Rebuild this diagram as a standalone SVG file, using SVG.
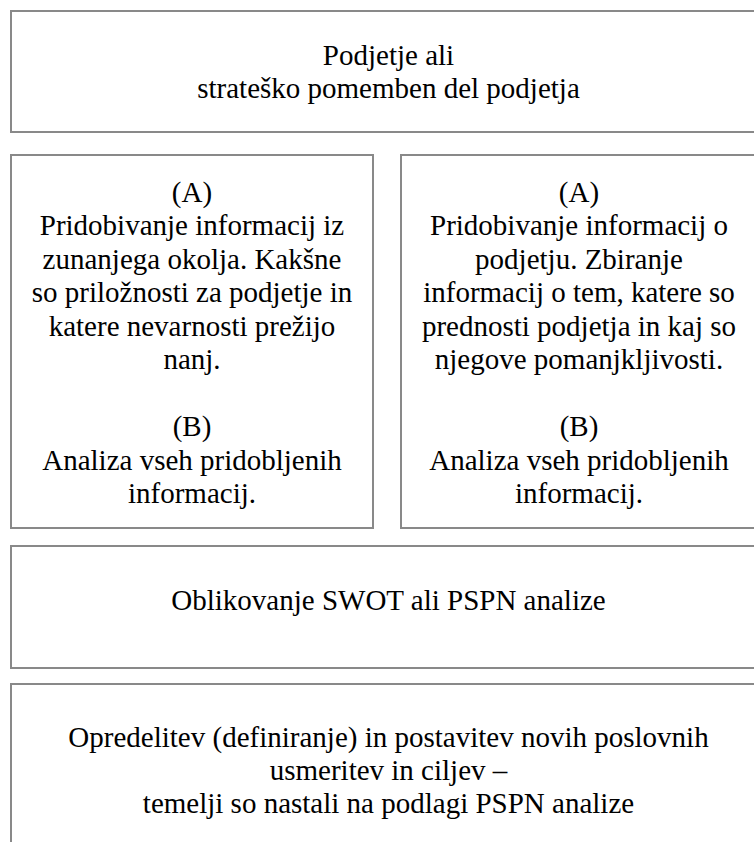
<svg xmlns="http://www.w3.org/2000/svg" width="754" height="842" viewBox="0 0 754 842">
<style>
.box{fill:#ffffff;stroke:#898989;stroke-width:2}
.t{font-family:"Liberation Serif","Times New Roman",serif;font-size:29px;fill:#000000;text-anchor:middle}
</style>
<rect width="754" height="842" fill="#ffffff"/>
<g id="connectors"></g>
<g id="node-top">
<rect class="box" x="11" y="11" width="760" height="121"/>
<text class="t" x="388.5" y="65">Podjetje ali</text>
<text class="t" x="388.5" y="98">strateško pomemben del podjetja</text>
</g>
<g id="node-external">
<rect class="box" x="11" y="155" width="362" height="373"/>
<text class="t" x="192" y="201.5">(A)</text>
<text class="t" x="192" y="235">Pridobivanje informacij iz</text>
<text class="t" x="192" y="268.5">zunanjega okolja. Kakšne</text>
<text class="t" x="192" y="302">so priložnosti za podjetje in</text>
<text class="t" x="192" y="335.5">katere nevarnosti prežijo</text>
<text class="t" x="192" y="369">nanj.</text>
<text class="t" x="192" y="436">(B)</text>
<text class="t" x="192" y="469.5">Analiza vseh pridobljenih</text>
<text class="t" x="192" y="503">informacij.</text>
</g>
<g id="node-internal">
<rect class="box" x="401" y="155" width="360" height="373"/>
<text class="t" x="579" y="201.5">(A)</text>
<text class="t" x="579" y="235">Pridobivanje informacij o</text>
<text class="t" x="579" y="268.5">podjetju. Zbiranje</text>
<text class="t" x="579" y="302">informacij o tem, katere so</text>
<text class="t" x="579" y="335.5">prednosti podjetja in kaj so</text>
<text class="t" x="579" y="369">njegove pomanjkljivosti.</text>
<text class="t" x="579" y="436">(B)</text>
<text class="t" x="579" y="469.5">Analiza vseh pridobljenih</text>
<text class="t" x="579" y="503">informacij.</text>
</g>
<g id="node-swot">
<rect class="box" x="11" y="546" width="760" height="122"/>
<text class="t" x="388.5" y="610">Oblikovanje SWOT ali PSPN analize</text>
</g>
<g id="node-goals">
<rect class="box" x="11" y="684" width="760" height="200"/>
<text class="t" x="388.5" y="746.5">Opredelitev (definiranje) in postavitev novih poslovnih</text>
<text class="t" x="388.5" y="779.5">usmeritev in ciljev –</text>
<text class="t" x="388.5" y="812.5">temelji so nastali na podlagi PSPN analize</text>
</g>
</svg>
